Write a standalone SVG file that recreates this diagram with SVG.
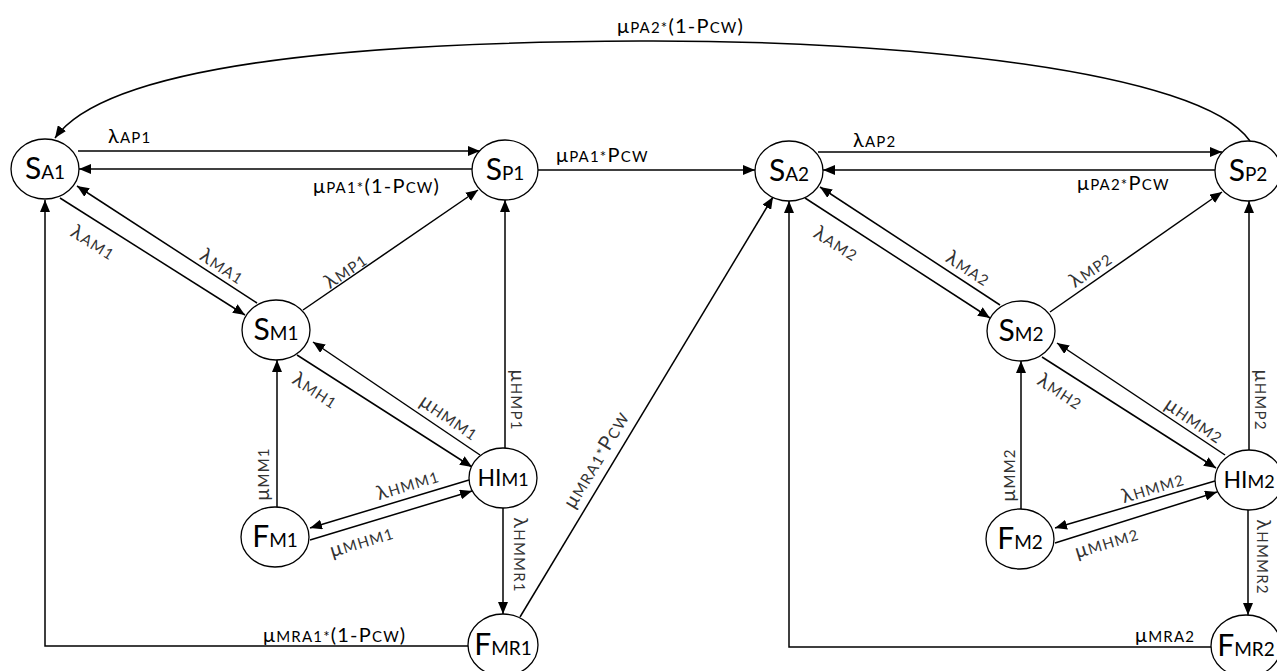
<svg xmlns="http://www.w3.org/2000/svg" width="1277" height="671" viewBox="0 0 1277 671">
  <defs>
    <marker id="ah" viewBox="0 0 12 10" refX="12" refY="5" markerWidth="12" markerHeight="10" markerUnits="userSpaceOnUse" orient="auto">
      <path d="M0,0 L12,5 L0,10 z" fill="#000"/>
    </marker>
    <style>
      .node ellipse { fill: #fff; stroke: #000; stroke-width: 1.3; }
      .nt { font-family: Lato, "Open Sans", "DejaVu Sans", sans-serif; font-size: 30px; text-anchor: middle; fill: #000; }
      .nt .s { font-size: 19px; }
      .nt.h { font-size: 23px; }
      .nt.h .s { font-size: 18px; }
      .e { fill: none; stroke: #000; stroke-width: 1.5; marker-end: url(#ah); }
      .l { font-family: Lato, "Open Sans", "DejaVu Sans", sans-serif; font-size: 20px; letter-spacing: 1.2px; fill: #000; }
      .l .s { font-size: 15px; }
      .r { fill: #333; text-anchor: middle; }
    </style>
  </defs>
  <rect width="1277" height="671" fill="#fff"/>

  <!-- transitions -->
  <g id="connectors">
    <!-- module 1 -->
    <path class="e" d="M78,151 H480"/>
    <path class="e" d="M472,169 H79"/>
    <path class="e" d="M538,170 H755"/>
    <path class="e" d="M60,198 L245,315"/>
    <path class="e" d="M257,303 L77,186"/>
    <path class="e" d="M303,310 L478,190"/>
    <path class="e" d="M505,448 V200"/>
    <path class="e" d="M297,355 L472,467"/>
    <path class="e" d="M480,455 L313,342"/>
    <path class="e" d="M277,507 V360"/>
    <path class="e" d="M469,480 L310,528"/>
    <path class="e" d="M310,540 L472,491"/>
    <path class="e" d="M503,508 V614"/>
    <path class="e" d="M520,617 L773,197"/>
    <path class="e" d="M469,646 H45 V200"/>
    <!-- module 2 -->
    <path class="e" d="M818,152 H1222"/>
    <path class="e" d="M1215,170 H823"/>
    <path class="e" d="M805,198 L990,318"/>
    <path class="e" d="M1000,305 L820,187"/>
    <path class="e" d="M1050,312 L1222,192"/>
    <path class="e" d="M1249,450 V201"/>
    <path class="e" d="M1042,357 L1216,468"/>
    <path class="e" d="M1225,455 L1057,343"/>
    <path class="e" d="M1021,509 V361"/>
    <path class="e" d="M1215,481 L1055,528"/>
    <path class="e" d="M1055,543 L1217,492"/>
    <path class="e" d="M1248,510 V615"/>
    <path class="e" d="M1212,647 H789 V201"/>
    <!-- return path S_P2 to S_A1 -->
    <path class="e" d="M1250,141 C1200,70 900,40 640,41 C380,42 110,60 55,138"/>
  </g>

  <!-- transition rates -->
  <g id="edge-labels">
    <text class="l" x="108" y="143">λ<tspan class="s">AP1</tspan></text>
    <text class="l" x="313" y="193">μ<tspan class="s">PA1*</tspan>(1-P<tspan class="s">CW</tspan>)</text>
    <text class="l" x="556" y="162">μ<tspan class="s">PA1*</tspan>P<tspan class="s">CW</tspan></text>
    <text class="l" x="853" y="147">λ<tspan class="s">AP2</tspan></text>
    <text class="l" x="1077" y="190">μ<tspan class="s">PA2*</tspan>P<tspan class="s">CW</tspan></text>
    <text class="l" x="617" y="33">μ<tspan class="s">PA2*</tspan>(1-P<tspan class="s">CW</tspan>)</text>
    <text class="l" x="263" y="642">μ<tspan class="s">MRA1*</tspan>(1-P<tspan class="s">CW</tspan>)</text>
    <text class="l" x="1135" y="642">μ<tspan class="s">MRA2</tspan></text>

    <text class="l r" transform="translate(93,243) rotate(32)" y="6">λ<tspan class="s">AM1</tspan></text>
    <text class="l r" transform="translate(222,267) rotate(33)" y="6">λ<tspan class="s">MA1</tspan></text>
    <text class="l r" transform="translate(346,271) rotate(-34)" y="6">λ<tspan class="s">MP1</tspan></text>
    <text class="l r" transform="translate(315,391) rotate(33)" y="6">λ<tspan class="s">MH1</tspan></text>
    <text class="l r" transform="translate(449,418) rotate(34)" y="6">μ<tspan class="s">HMM1</tspan></text>
    <text class="l r" transform="translate(408,485) rotate(-17)" y="6">λ<tspan class="s">HMM1</tspan></text>
    <text class="l r" transform="translate(362,542) rotate(-17)" y="6">μ<tspan class="s">MHM1</tspan></text>
    <text class="l r" transform="translate(263,474) rotate(-90)" y="6">μ<tspan class="s">MM1</tspan></text>
    <text class="l r" transform="translate(517,400) rotate(90)" y="6">μ<tspan class="s">HMP1</tspan></text>
    <text class="l r" transform="translate(520,555) rotate(90)" y="6">λ<tspan class="s">HMMR1</tspan></text>
    <text class="l r" transform="translate(597,460) rotate(-59)" y="6">μ<tspan class="s">MRA1*</tspan>P<tspan class="s">CW</tspan></text>

    <text class="l r" transform="translate(836,244) rotate(32)" y="6">λ<tspan class="s">AM2</tspan></text>
    <text class="l r" transform="translate(968,269) rotate(33)" y="6">λ<tspan class="s">MA2</tspan></text>
    <text class="l r" transform="translate(1091,270) rotate(-34)" y="6">λ<tspan class="s">MP2</tspan></text>
    <text class="l r" transform="translate(1060,392) rotate(33)" y="6">λ<tspan class="s">MH2</tspan></text>
    <text class="l r" transform="translate(1194,421) rotate(34)" y="6">μ<tspan class="s">HMM2</tspan></text>
    <text class="l r" transform="translate(1153,488) rotate(-17)" y="6">λ<tspan class="s">HMM2</tspan></text>
    <text class="l r" transform="translate(1107,543) rotate(-17)" y="6">μ<tspan class="s">MHM2</tspan></text>
    <text class="l r" transform="translate(1009,475) rotate(-90)" y="6">μ<tspan class="s">MM2</tspan></text>
    <text class="l r" transform="translate(1261,400) rotate(90)" y="6">μ<tspan class="s">HMP2</tspan></text>
    <text class="l r" transform="translate(1263,557) rotate(90)" y="6">λ<tspan class="s">HMMR2</tspan></text>
  </g>

  <!-- states -->
  <g id="S_A1" class="node"><ellipse cx="45" cy="169" rx="34" ry="30"/><text class="nt" x="45" y="179">S<tspan class="s">A1</tspan></text></g>
  <g id="S_P1" class="node"><ellipse cx="505" cy="170" rx="33" ry="30"/><text class="nt" x="505" y="180">S<tspan class="s">P1</tspan></text></g>
  <g id="S_M1" class="node"><ellipse cx="276" cy="330" rx="34" ry="30"/><text class="nt" x="276" y="340">S<tspan class="s">M1</tspan></text></g>
  <g id="HI_M1" class="node"><ellipse cx="503" cy="478" rx="34" ry="30"/><text class="nt h" x="503" y="486">HI<tspan class="s">M1</tspan></text></g>
  <g id="F_M1" class="node"><ellipse cx="275" cy="537" rx="34" ry="30"/><text class="nt" x="275" y="547">F<tspan class="s">M1</tspan></text></g>
  <g id="F_MR1" class="node"><ellipse cx="503" cy="645" rx="35" ry="31"/><text class="nt" x="503" y="655">F<tspan class="s">MR1</tspan></text></g>
  <g id="S_A2" class="node"><ellipse cx="789" cy="171" rx="34" ry="30"/><text class="nt" x="789" y="181">S<tspan class="s">A2</tspan></text></g>
  <g id="S_P2" class="node"><ellipse cx="1248" cy="171" rx="33" ry="30"/><text class="nt" x="1248" y="181">S<tspan class="s">P2</tspan></text></g>
  <g id="S_M2" class="node"><ellipse cx="1021" cy="331" rx="34" ry="30"/><text class="nt" x="1021" y="341">S<tspan class="s">M2</tspan></text></g>
  <g id="HI_M2" class="node"><ellipse cx="1249" cy="480" rx="34" ry="30"/><text class="nt h" x="1249" y="488">HI<tspan class="s">M2</tspan></text></g>
  <g id="F_M2" class="node"><ellipse cx="1020" cy="539" rx="34" ry="30"/><text class="nt" x="1020" y="549">F<tspan class="s">M2</tspan></text></g>
  <g id="F_MR2" class="node"><ellipse cx="1246" cy="646" rx="35" ry="31"/><text class="nt" x="1246" y="656">F<tspan class="s">MR2</tspan></text></g>
</svg>
